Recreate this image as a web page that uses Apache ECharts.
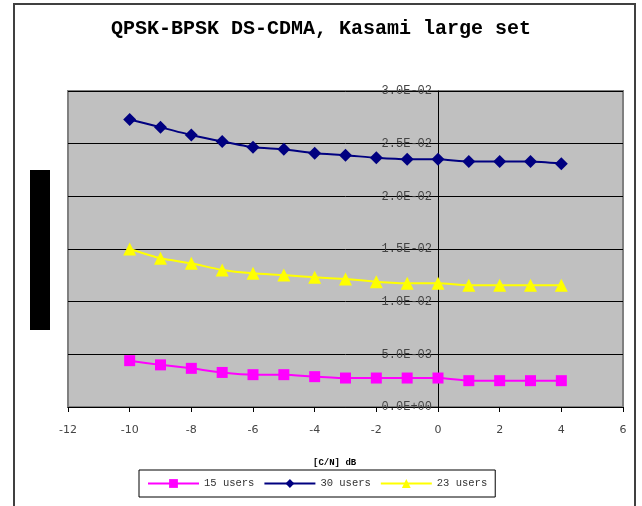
<!DOCTYPE html>
<html>
<head>
<meta charset="utf-8">
<script src="https://cdn.jsdelivr.net/npm/echarts@6/dist/echarts.min.js"></script>
<style>html,body{margin:0;padding:0;background:#fff}#c{width:642px;height:506px}</style>
</head>
<body>
<div id="c"></div>
<script>
const cn = [-10,-9,-8,-7,-6,-5,-4,-3,-2,-1,0,1,2,3,4];
const users15 = [0.0044,0.0040,0.00367,0.00328,0.00307,0.00307,0.00288,0.00275,0.00275,0.00275,0.00275,0.0025,0.0025,0.0025,0.0025];
const users30 = [0.0273,0.02655,0.02582,0.0252,0.02465,0.02446,0.02408,0.0239,0.02366,0.02352,0.02352,0.0233,0.0233,0.0233,0.0231];
const users23 = [0.0150,0.01412,0.01364,0.01301,0.01269,0.01253,0.01231,0.01215,0.0119,0.01174,0.01174,0.01155,0.01155,0.01155,0.01155];
const seriesNames = ['15 users','30 users','23 users'];
const titleText = 'QPSK-BPSK DS-CDMA, Kasami large set';
const xTitle = '[C/N] dB';

function pairs(v){ return cn.map((x,i)=>[x,v[i]]); }
function fmtE(v){
  if (v === 0) return '0.0E+00';
  let e = Math.floor(Math.log10(Math.abs(v)) + 1e-9);
  let m = v / Math.pow(10, e);
  let s = e < 0 ? '-' : '+';
  let ea = Math.abs(e);
  return m.toFixed(1) + 'E' + s + (ea < 10 ? '0' + ea : ea);
}

const GRID_LEFT = 68;
const chart = echarts.init(document.getElementById('c'), null, {renderer:'canvas'});
chart.setOption({
  animation: false,
  backgroundColor: '#fff',
  title: [
    { text: titleText, left: 'center', top: 14,
      textStyle: { fontFamily: 'Liberation Mono', fontWeight: 'bold', fontSize: 20, color: '#000' } },
    { text: xTitle, left: 308, top: 453,
      textStyle: { fontFamily: 'Liberation Mono', fontWeight: 'bold', fontSize: 9, color: '#000' } }
  ],
  graphic: [
    { type: 'rect', shape: { x: 14, y: 4, width: 621, height: 530 }, style: { fill: 'none', stroke: '#404040', lineWidth: 2 }, silent: true },
    { type: 'rect', shape: { x: 30, y: 170, width: 20, height: 160 }, style: { fill: '#000' }, silent: true }
  ],
  grid: { left: GRID_LEFT, top: 91, right: 19, bottom: 99, show: true, backgroundColor: '#C0C0C0', borderColor: '#808080', borderWidth: 2 },
  legend: {
    data: seriesNames, left: 139, top: 470,
    borderColor: '#000', borderWidth: 1, padding: [8, 8],
    itemWidth: 51, itemHeight: 11, itemGap: 9,
    textStyle: { fontFamily: 'Liberation Mono', fontSize: 10.5, color: '#333' }
  },
  xAxis: {
    type: 'value', min: -12, max: 6, interval: 2,
    axisLine: { show: true, onZero: false, lineStyle: { color: '#000', width: 1 } },
    axisTick: { show: true, length: 5, lineStyle: { color: '#000' } },
    axisLabel: { margin: 18, fontFamily: 'DejaVu Sans', fontSize: 11, color: '#444' },
    splitLine: { show: false }
  },
  yAxis: {
    type: 'value', min: 0, max: 0.03, interval: 0.005,
    axisLine: { show: true, onZero: false, lineStyle: { color: '#000', width: 1 } },
    axisTick: { show: true, length: 4, lineStyle: { color: '#000' } },
    axisLabel: { margin: 6, fontFamily: 'Liberation Mono', fontSize: 12, color: '#444', formatter: fmtE },
    splitLine: { show: true, lineStyle: { color: '#000', width: 1 } }
  },
  series: [
    { name: seriesNames[0], type: 'line', data: pairs(users15), smooth: 0.2,
      symbol: 'rect', symbolSize: 11, itemStyle: { color: '#FF00FF' }, lineStyle: { color: '#FF00FF', width: 2 } },
    { name: seriesNames[1], type: 'line', data: pairs(users30), smooth: 0.2,
      symbol: 'diamond', symbolSize: 13, itemStyle: { color: '#000080' }, lineStyle: { color: '#000080', width: 2 } },
    { name: seriesNames[2], type: 'line', data: pairs(users23), smooth: 0.2,
      symbol: 'triangle', symbolSize: 13, itemStyle: { color: '#FFFF00' }, lineStyle: { color: '#FFFF00', width: 2 } }
  ]
});
// place the value axis where x = 0, using the library's own x scale
const zeroPx = chart.convertToPixel({ xAxisIndex: 0 }, 0);
chart.setOption({ yAxis: { offset: -(zeroPx - GRID_LEFT) } });
</script>
</body>
</html>
